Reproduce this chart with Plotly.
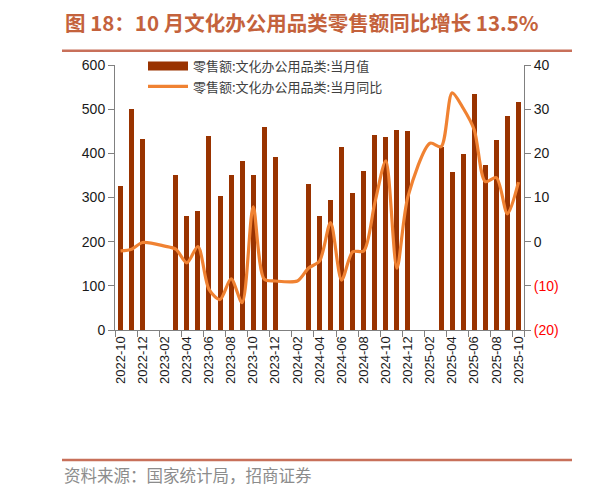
import plotly.graph_objects as go

months = [
    "2022-10", "2022-11", "2022-12",
    "2023-01", "2023-02", "2023-03", "2023-04", "2023-05", "2023-06",
    "2023-07", "2023-08", "2023-09", "2023-10", "2023-11", "2023-12",
    "2024-01", "2024-02", "2024-03", "2024-04", "2024-05", "2024-06",
    "2024-07", "2024-08", "2024-09", "2024-10", "2024-11", "2024-12",
    "2025-01", "2025-02", "2025-03", "2025-04", "2025-05", "2025-06",
    "2025-07", "2025-08", "2025-09", "2025-10",
]
# 当月值（亿元）
sales = [
    327, 500, 432,
    None, None, 351, 258, 269, 440,
    304, 352, 383, 352, 459, 392,
    None, None, 330, 258, 294, 414,
    310, 361, 441, 437, 453, 450,
    None, None, 414, 358, 398, 534,
    373, 430, 485, 516,
]
# 当月同比（%）
yoy = [
    -2.1, -1.7, -0.2,
    None, -1.0, -1.7, -4.8, -1.1, -10.8,
    -13.1, -8.4, -13.8, 7.9, -8.5, -8.9,
    None, -8.9, -6.0, -4.4, 4.3, -8.7,
    -2.3, -2.1, 8.7, 18.3, -6.0, 10.2,
    None, 22.3, 21.5, 33.7, 30.2, 25.3,
    13.6, 14.5, 6.3, 13.5,
]
right_ticks = [40, 30, 20, 10, 0, -10, -20]
right_labels = ["40", "30", "20", "10", "0",
                "<span style='color:#FF0000'>(10)</span>",
                "<span style='color:#FF0000'>(20)</span>"]

bar_name = "零售额:文化办公用品类:当月值"
line_name = "零售额:文化办公用品类:当月同比"

# the page body adds an 8px margin, so the figure is shifted back by it
OFF = 8
W, H = 599 - OFF, 490 - OFF
L, R, T, B = 115 - OFF, 524 - OFF, 65 - OFF, 330 - OFF


def px(x):
    return (x - OFF - L) / (R - L)


def py(y):
    return (B - (y - OFF)) / (B - T)


fig = go.Figure()
fig.add_trace(go.Bar(
    x=months, y=sales, name=bar_name, showlegend=False,
    marker=dict(color="#993300", line=dict(width=0)), width=0.45,
))
# legend swatch for the bars (wide block like the original)
fig.add_trace(go.Scatter(
    x=[None], y=[None], name=bar_name, mode="lines",
    line=dict(color="#993300", width=9), legend="legend",
))
fig.add_trace(go.Scatter(
    x=months, y=yoy, name=line_name, yaxis="y2", legend="legend2",
    mode="lines", line=dict(color="#F08232", width=3.2, shape="spline", smoothing=0.8),
    connectgaps=True,
))

axis_font = dict(family="Liberation Sans, Arial", size=14, color="#1a1a1a")
legend_font = dict(family="Noto Sans CJK SC", size=13, color="#404040")
fig.update_layout(
    width=W, height=H,
    margin=dict(l=L, r=W - R, t=T, b=H - B, pad=0),
    paper_bgcolor="white", plot_bgcolor="white",
    showlegend=True,
    legend=dict(x=px(143), y=py(51), xanchor="left", yanchor="top",
                bgcolor="rgba(0,0,0,0)", itemwidth=40, font=legend_font),
    legend2=dict(x=px(143), y=py(71.5), xanchor="left", yanchor="top",
                 bgcolor="rgba(0,0,0,0)", itemwidth=40, font=legend_font),
    bargap=0,
    title=dict(text="<b>图 18：10 月文化办公用品类零售额同比增长 13.5%</b>",
               x=(65 - OFF) / W, xanchor="left", xref="container",
               y=1 - (24 - OFF) / H, yanchor="middle", yref="container",
               font=dict(family="Noto Sans CJK SC", size=20.5, color="#C4623C")),
    xaxis=dict(type="category", categoryarray=months, categoryorder="array",
               tickvals=months[::2], tickangle=-90, tickson="boundaries",
               ticks="outside", ticklen=6, tickcolor="#808080",
               showline=True, linecolor="#808080", linewidth=1,
               showgrid=False, zeroline=False, range=[-0.5, len(months) - 0.5],
               tickfont=dict(family="Liberation Sans, Arial", size=13, color="#1a1a1a")),
    yaxis=dict(range=[0, 600], dtick=100, ticks="outside", ticklen=6,
               tickcolor="#808080", showline=True, linecolor="#808080",
               showgrid=False, zeroline=False, tickfont=axis_font),
    yaxis2=dict(overlaying="y", side="right", range=[-20, 40],
                tickvals=right_ticks, ticktext=right_labels,
                ticks="outside", ticklen=6, tickcolor="#808080",
                showline=True, linecolor="#808080",
                showgrid=False, zeroline=False, tickfont=axis_font),
)

# 标题与来源的分隔线
line_style = dict(color="#C8705A", width=2.5)
for y in (50.7, 460):
    fig.add_shape(type="line", xref="paper", yref="paper",
                  x0=px(62), x1=px(572), y0=py(y), y1=py(y), line=line_style)
    fig.add_shape(type="line", xref="paper", yref="paper",
                  x0=px(595), x1=px(610), y0=py(y), y1=py(y), line=line_style)

fig.add_annotation(text="资料来源：国家统计局，招商证券", xref="paper", yref="paper",
                   x=px(62), y=py(475), xanchor="left", yanchor="middle",
                   showarrow=False,
                   font=dict(family="Noto Sans CJK SC", size=16.5, color="#8C8C8C"))

fig.write_html("out.html")
